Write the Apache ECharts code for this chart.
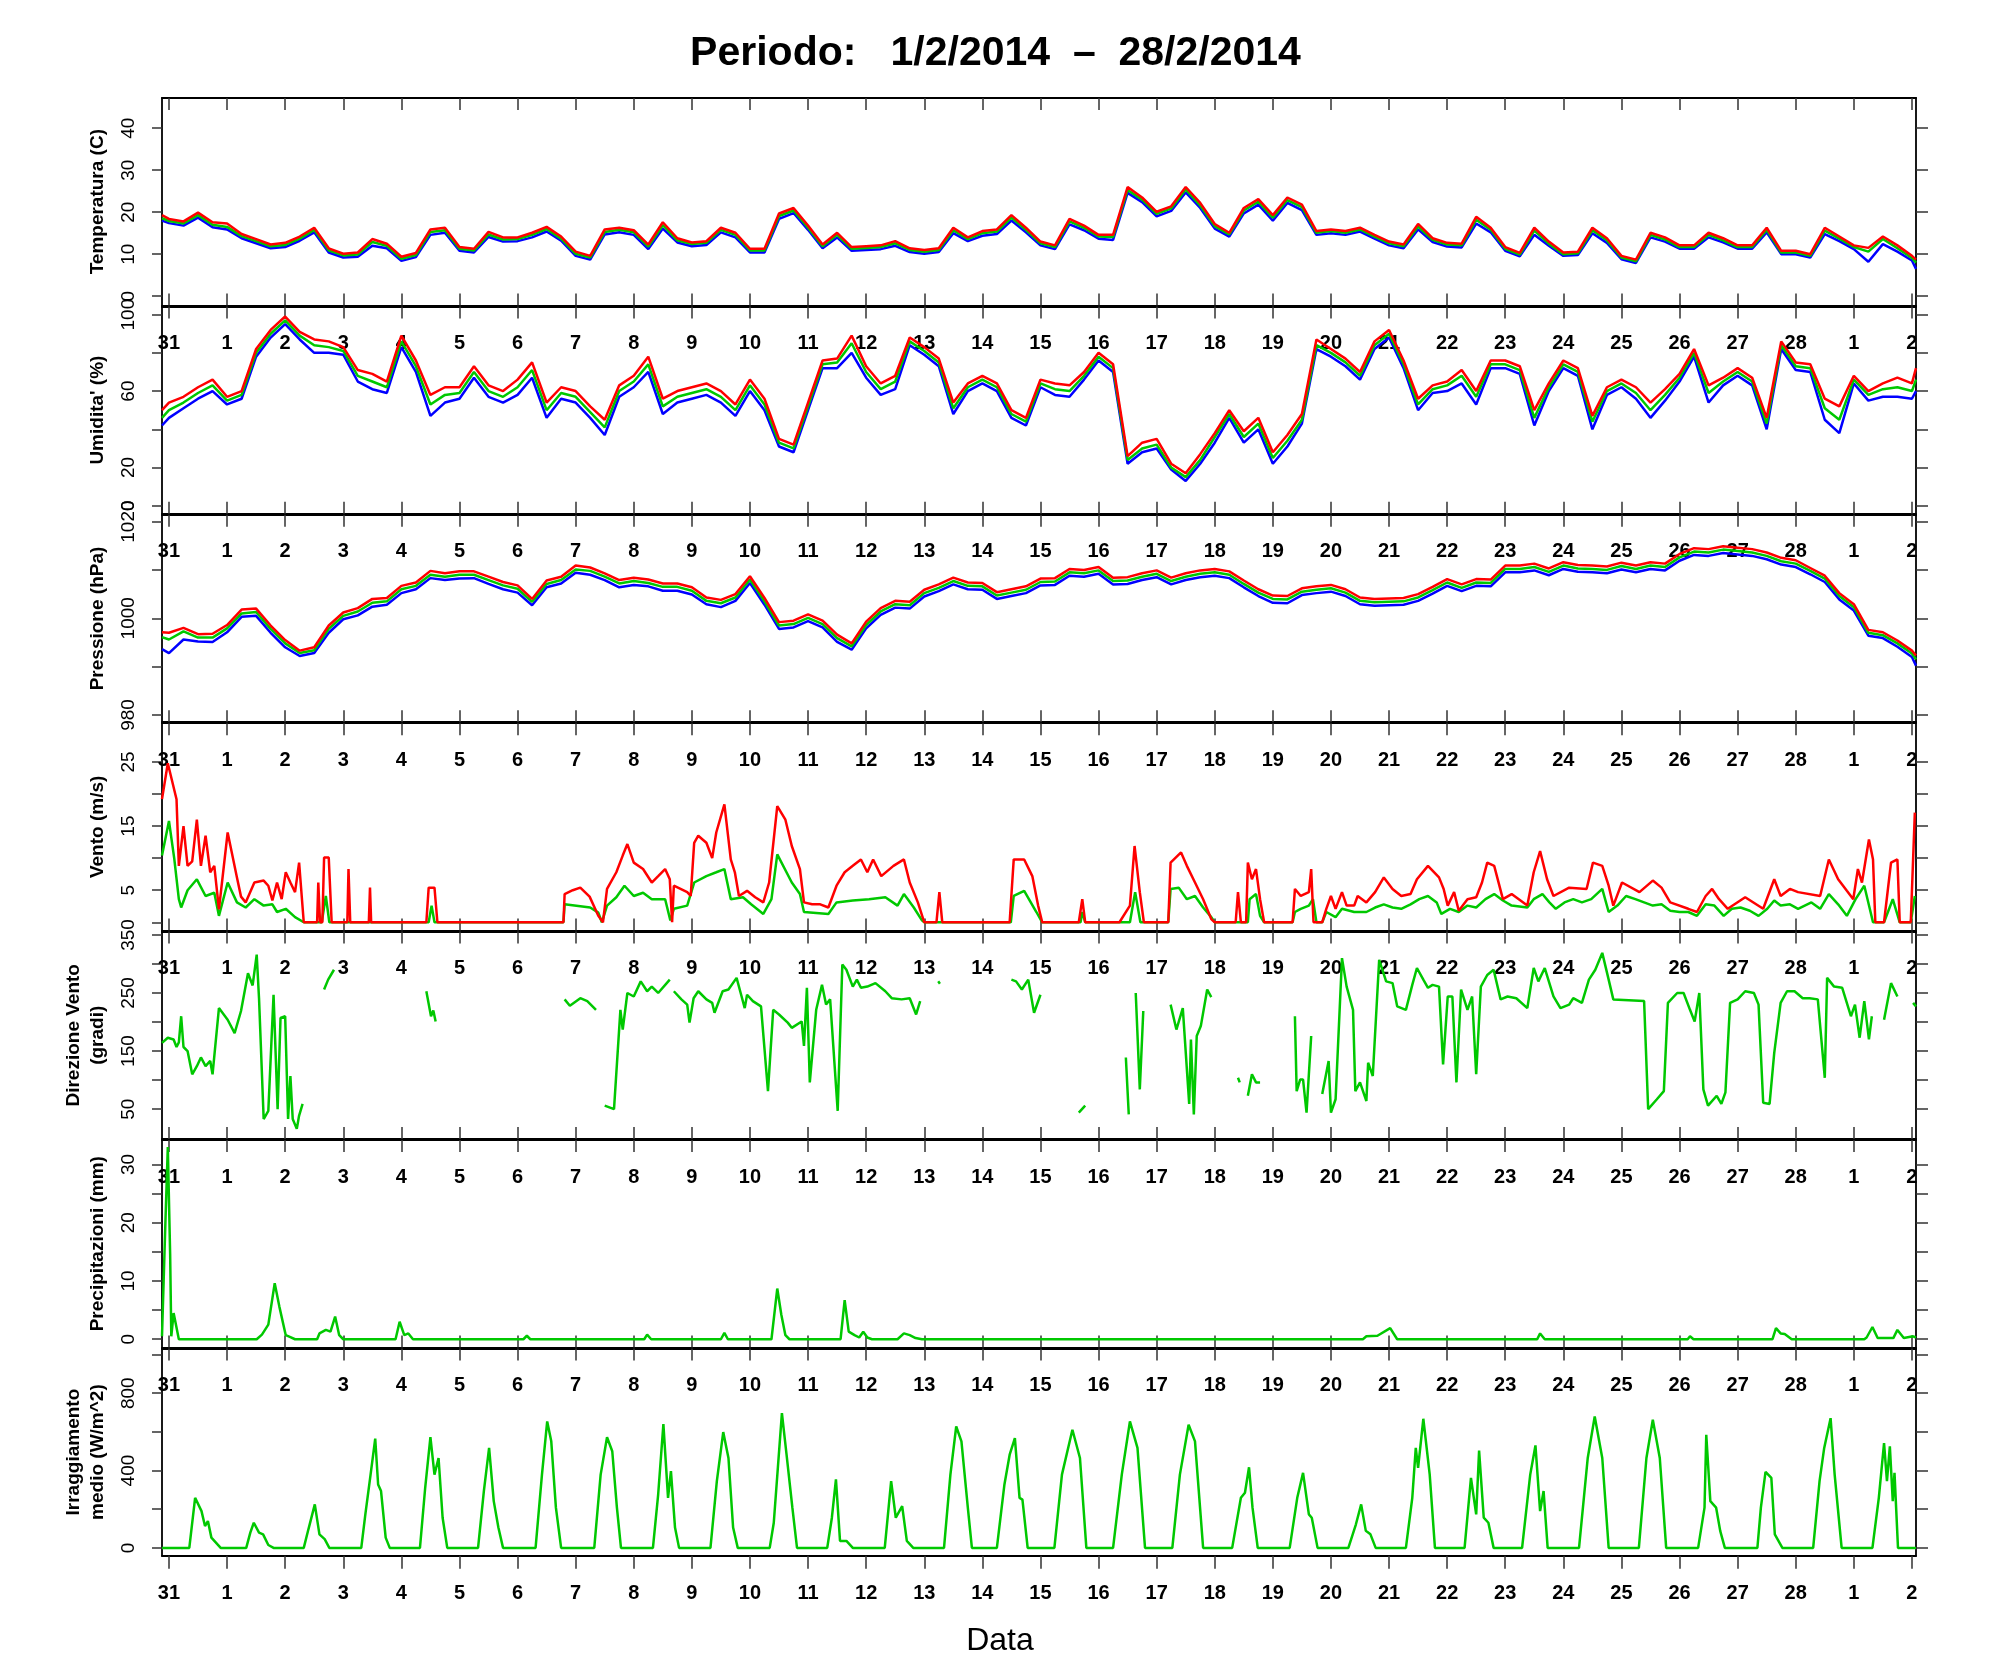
<!DOCTYPE html>
<html>
<head>
<meta charset="utf-8">
<script src="https://cdn.jsdelivr.net/npm/echarts@6/dist/echarts.min.js"></script>
<style>
  html, body { margin: 0; background: #fff; }
  #chart { width: 1991px; height: 1680px; }
</style>
</head>
<body>
<div id="chart"></div>
<script>
// day labels on the x axis, Jan 31 -> Mar 2 (0 = 31 Jan 00:00)
const dayLabels = ['31','1','2','3','4','5','6','7','8','9','10','11','12','13','14','15',
  '16','17','18','19','20','21','22','23','24','25','26','27','28','1','2'];
const dayTicks = dayLabels.map((_, i) => i);

// y tick positions / labels per panel
const tempTicks = [0, 10, 20, 30, 40],        tempLabels = [0, 10, 20, 30, 40];
const humTicks = [0, 20, 40, 60, 80, 100],    humLabels = [0, 20, 60, 100];
const pressTicks = [980, 990, 1000, 1010, 1020], pressLabels = [980, 1000, 1020];
const windTicks = [0, 5, 10, 15, 20, 25],     windLabels = [5, 15, 25];
const dirTicks = [50, 100, 150, 200, 250, 300, 350], dirLabels = [50, 150, 250, 350];
const rainTicks = [0, 5, 10, 15, 20, 25, 30], rainLabels = [0, 10, 20, 30];
const radTicks = [0, 200, 400, 600, 800, 1000], radLabels = [0, 400, 800];

// 6-hourly samples: first value at the left edge, then 4 per day, then 30.00 and the right edge
const tempMax = [19.3,
  18.4,17.8,19.9,17.6, 17.3,14.8,13.6,12.3, 12.7,14.2,16.3,11.4, 10.1,10.4,13.6,12.5,
  9.4,10.3,15.9,16.3, 11.7,11.3,15.3,14.0, 14.0,15.1,16.5,14.2, 10.6,9.6,15.9,16.3,
  15.7,12.3,17.6,13.8, 12.8,13.1,16.3,15.1, 11.3,11.3,19.7,21.0, 16.8,12.3,15.1,11.7,
  11.9,12.1,13.1,11.4, 11.0,11.4,16.3,14.0, 15.5,15.9,19.3,16.3, 13.0,12.1,18.4,16.8,
  14.6,14.6,26.0,23.5, 20.1,21.4,26.0,22.2, 17.2,15.1,21.0,23.1, 19.3,23.5,21.8,15.5,
  15.9,15.5,16.3,14.6, 13.0,12.3,17.2,13.8, 12.7,12.5,18.9,16.3, 11.7,10.3,16.3,13.0,
  10.4,10.6,16.3,13.8, 9.6,8.7,15.1,14.0, 12.1,12.1,15.1,13.8, 12.1,12.1,16.3,10.8,
  10.8,10.0,16.3,14.2, 12.1,11.5,14.2,12.1,
  9.6,8.7];
const tempMean = [18.6,
  17.9,17.3,19.3,17.0, 16.5,14.3,13.1,11.9, 12.2,13.7,15.8,10.9, 9.7,9.9,12.9,12.0,
  8.9,9.8,15.3,15.7, 11.3,10.9,14.7,13.5, 13.6,14.6,16.0,13.7, 10.1,9.2,15.3,15.8,
  15.2,11.8,16.9,13.3, 12.4,12.7,15.8,14.6, 10.9,10.9,19.1,20.4, 16.3,11.9,14.6,11.3,
  11.5,11.7,12.6,11.0, 10.6,11.0,15.7,13.6, 15.0,15.4,18.7,15.8, 12.6,11.7,17.8,16.3,
  14.2,14.1,25.3,23.0, 19.6,20.9,25.4,21.6, 16.7,14.7,20.4,22.5, 18.7,22.9,21.2,15.1,
  15.5,15.1,15.9,14.2, 12.6,11.9,16.6,13.4, 12.3,12.1,18.2,15.8, 11.3,9.9,15.6,12.5,
  10.0,10.2,15.7,13.3, 9.2,8.3,14.6,13.5, 11.7,11.7,14.6,13.3, 11.7,11.7,15.8,10.4,
  10.4,9.6,15.6,13.7, 11.7,10.6,13.6,11.4,
  9.1,8.0];
const tempMin = [18.0,
  17.4,16.8,18.7,16.4, 15.9,13.8,12.6,11.4, 11.7,13.2,15.2,10.4, 9.2,9.4,12.0,11.4,
  8.4,9.3,14.6,15.1, 10.8,10.4,14.1,13.0, 13.1,14.0,15.4,13.2, 9.6,8.7,14.7,15.2,
  14.6,11.2,16.1,12.8, 11.9,12.2,15.2,14.0, 10.4,10.4,18.4,19.8, 15.8,11.4,14.0,10.8,
  11.0,11.2,12.0,10.5, 10.1,10.5,15.0,13.1, 14.4,14.8,18.0,15.2, 12.1,11.2,17.1,15.7,
  13.7,13.4,24.6,22.4, 19.0,20.3,24.7,21.0, 16.1,14.2,19.7,21.8, 18.0,22.2,20.5,14.6,
  15.0,14.6,15.4,13.7, 12.1,11.4,15.9,12.9, 11.8,11.6,17.3,15.2, 10.8,9.5,14.6,12.0,
  9.6,9.8,15.0,12.7, 8.8,7.9,14.0,13.0, 11.3,11.3,14.0,12.8, 11.3,11.3,15.2,10.0,
  10.0,9.2,14.8,13.1, 11.2,8.2,12.4,10.6,
  8.5,6.5];

const humMax = [50,
  54,57,62,66, 57,60,82,92, 99,91,87,86, 83,71,69,65, 89,76,58,62, 62,73,63,60,
  66,75,54,62, 60,52,45,63, 68,78,56,60, 62,64,60,53, 66,56,35,32, 54,76,77,89,
  73,64,68,88, 83,77,54,64, 68,64,50,46, 66,64,63,70, 80,74,26,33, 35,22,17,27,
  38,50,39,46, 28,37,48,87, 82,77,70,86, 92,76,56,63, 65,71,60,76, 76,73,50,64,
  76,72,47,62, 66,62,54,61, 69,82,63,67, 72,67,46,86, 75,74,56,52, 68,60,64,67,
  64,72];
const humMean = [46,
  50,54,59,63, 55,58,80,90, 97,89,84,83, 81,68,65,62, 86,73,53,58, 59,70,60,57,
  62,71,50,59, 57,49,41,60, 65,74,52,57, 59,61,57,50, 63,53,33,30, 52,74,75,85,
  70,61,65,86, 81,75,51,62, 66,62,48,44, 64,61,60,68, 78,72,24,30, 32,20,15,24,
  36,48,36,43, 25,34,45,84, 80,75,68,84, 90,74,53,61, 63,68,57,74, 74,71,46,62,
  74,70,44,60, 64,59,50,58, 67,80,59,65, 70,65,43,84, 73,72,51,45, 66,58,61,62,
  60,66];
const humMin = [42,
  46,51,56,60, 53,56,78,88, 95,87,80,80, 79,65,61,59, 83,70,47,54, 56,67,57,54,
  58,67,46,56, 54,46,37,57, 62,70,48,54, 56,58,54,47, 60,50,31,28, 50,72,72,80,
  67,58,61,84, 79,73,48,60, 64,60,46,42, 62,58,57,66, 76,70,22,28, 30,19,13,22,
  33,46,33,40, 22,31,43,82, 78,73,66,82, 88,72,50,59, 60,64,53,72, 72,69,42,60,
  72,68,40,58, 62,56,46,55, 65,78,54,63, 68,63,40,82, 71,70,45,38, 64,55,57,57,
  56,60];

const pressMax = [997.1,
  997.0,998.0,996.7,996.8, 998.6,1001.8,1002.0,998.5, 995.5,993.3,994.0,998.5,
  1001.2,1002.1,1004.0,1004.2, 1006.7,1007.4,1009.8,1009.3, 1009.7,1009.7,1008.6,1007.5,
  1006.8,1004.0,1007.8,1008.6, 1010.9,1010.5,1009.3,1007.9, 1008.4,1008.0,1007.2,1007.2,
  1006.4,1004.3,1003.8,1005.0, 1008.7,1004.2,999.2,999.5, 1000.8,999.5,996.6,994.8,
  999.3,1002.1,1003.6,1003.4, 1005.9,1007.0,1008.4,1007.4, 1007.3,1005.4,1006.0,1006.6,
  1008.2,1008.3,1010.2,1010.0, 1010.6,1008.4,1008.5,1009.3, 1009.9,1008.4,1009.3,1009.9,
  1010.2,1009.7,1007.8,1006.0, 1004.7,1004.6,1006.2,1006.6, 1006.9,1006.0,1004.3,1004.0,
  1004.1,1004.2,1005.0,1006.5, 1008.1,1007.0,1008.1,1008.0, 1010.9,1010.9,1011.3,1010.3,
  1011.6,1011.0,1010.9,1010.7, 1011.5,1010.9,1011.6,1011.3, 1013.3,1014.5,1014.3,1014.9,
  1014.6,1014.3,1013.6,1012.5, 1012.0,1010.4,1008.8,1005.2, 1002.9,997.6,997.1,995.4,
  993.3,992.3];
const pressMean = [996.1,
  995.6,997.3,996.0,996.0, 997.9,1001.0,1001.3,997.8, 994.8,992.8,993.4,997.8,
  1000.5,1001.4,1003.2,1003.5, 1006.0,1006.7,1009.0,1008.6, 1009.0,1009.0,1007.9,1006.8,
  1006.1,1003.4,1007.1,1007.9, 1010.1,1009.8,1008.6,1007.2, 1007.7,1007.3,1006.5,1006.5,
  1005.7,1003.6,1003.1,1004.3, 1008.0,1003.5,998.5,998.8, 1000.1,998.8,995.9,994.2,
  998.6,1001.4,1002.9,1002.7, 1005.2,1006.3,1007.7,1006.7, 1006.6,1004.7,1005.3,1005.9,
  1007.5,1007.6,1009.5,1009.3, 1009.9,1007.7,1007.8,1008.6, 1009.2,1007.7,1008.6,1009.2,
  1009.5,1009.0,1007.1,1005.3, 1004.0,1003.9,1005.5,1005.9, 1006.2,1005.3,1003.6,1003.3,
  1003.4,1003.5,1004.3,1005.8, 1007.4,1006.3,1007.4,1007.3, 1010.2,1010.2,1010.6,1009.6,
  1010.9,1010.3,1010.2,1010.0, 1010.8,1010.2,1010.9,1010.6, 1012.6,1013.8,1013.6,1014.2,
  1013.9,1013.6,1012.9,1011.8, 1011.3,1009.8,1008.2,1004.6, 1002.3,997.0,996.5,994.8,
  992.7,991.5];
const pressMin = [993.6,
  992.8,995.6,995.2,995.1, 997.1,1000.3,1000.5,997.0, 994.0,992.2,992.8,997.0,
  999.8,1000.6,1002.4,1002.8, 1005.2,1006.0,1008.3,1007.9, 1008.2,1008.3,1007.1,1006.0,
  1005.3,1002.7,1006.4,1007.2, 1009.4,1009.0,1007.9,1006.4, 1006.9,1006.6,1005.7,1005.7,
  1004.9,1002.9,1002.3,1003.6, 1007.3,1002.8,997.8,998.1, 999.4,998.1,995.1,993.5,
  997.9,1000.7,1002.2,1002.0, 1004.5,1005.6,1007.0,1006.0, 1005.9,1004.0,1004.6,1005.2,
  1006.8,1006.9,1008.8,1008.6, 1009.2,1007.0,1007.1,1007.9, 1008.5,1007.0,1007.9,1008.5,
  1008.8,1008.3,1006.4,1004.6, 1003.2,1003.1,1004.8,1005.2, 1005.5,1004.6,1002.9,1002.6,
  1002.7,1002.8,1003.6,1005.1, 1006.7,1005.6,1006.7,1006.6, 1009.5,1009.5,1009.9,1008.9,
  1010.2,1009.6,1009.5,1009.3, 1010.1,1009.5,1010.2,1009.9, 1011.9,1013.1,1012.9,1013.5,
  1013.2,1012.9,1012.2,1011.1, 1010.6,1009.1,1007.5,1003.9, 1001.6,996.4,995.9,994.1,
  992.0,990.2];

// wind, direction, rain and radiation: [day, value] read at the turning points of each trace
const windGust = [
  [-0.12,19.2],[-0.02,24.8],[0.13,19.2],[0.17,8.8],[0.25,15],[0.32,8.8],[0.4,9.5],[0.48,16],[0.55,8.8],
  [0.63,13.5],[0.71,7.8],[0.78,8.8],[0.86,2],[1.01,14],[1.17,7],[1.24,4],[1.32,3.1],[1.47,6.2],[1.63,6.5],
  [1.71,5.7],[1.78,3.4],[1.86,6.2],[1.94,3.6],[2.01,7.8],[2.09,6.2],[2.17,4.7],[2.24,9.3],[2.32,0],[2.55,0],
  [2.57,6.2],[2.6,0],[2.64,0],[2.67,10.1],[2.75,10.1],[2.8,0],[3.07,0],[3.09,8.3],[3.12,0],[3.44,0],
  [3.46,5.4],[3.48,0],[4.43,0],[4.47,5.4],[4.57,5.4],[4.62,0],[6.79,0],[6.81,4.4],[6.95,5],[7.08,5.4],
  [7.24,4],[7.39,1],[7.47,0],[7.54,5.2],[7.7,7.8],[7.81,10.4],[7.89,12.2],[8.0,9.3],[8.16,8.3],[8.31,6.2],
  [8.42,7.2],[8.54,8.3],[8.62,6.7],[8.66,0],[8.69,5.7],[8.92,4.7],[8.98,4.1],[9.04,12.4],[9.11,13.5],
  [9.25,12.4],[9.35,10],[9.42,14],[9.56,18.4],[9.67,9.8],[9.74,7.8],[9.81,4.1],[9.95,4.9],[10.09,3.9],
  [10.23,3.1],[10.33,6.2],[10.47,18.1],[10.61,16],[10.72,11.9],[10.86,8.3],[10.93,3.1],[11.07,2.8],
  [11.21,2.8],[11.35,2.3],[11.49,5.7],[11.63,7.8],[11.77,8.8],[11.91,9.8],[12.02,7.8],[12.12,9.8],
  [12.26,7.2],[12.47,8.8],[12.65,9.8],[12.75,6.2],[12.89,3.1],[13.0,0],[13.21,0],[13.26,4.7],[13.31,0],
  [14.47,0],[14.54,9.8],[14.72,9.8],[14.86,7.2],[14.96,2.6],[15.03,0],[15.66,0],[15.72,3.6],[15.77,0],
  [16.36,0],[16.54,2.6],[16.62,11.9],[16.71,4.7],[16.78,0],[17.2,0],[17.24,9.3],[17.42,10.9],[17.52,8.8],
  [17.66,6.2],[17.8,3.6],[17.94,0.5],[18.0,0],[18.36,0],[18.4,4.7],[18.45,0],[18.54,0],[18.57,9.3],
  [18.64,6.7],[18.71,8.3],[18.78,3.6],[18.85,0],[19.34,0],[19.38,5.2],[19.48,4.1],[19.62,4.7],[19.66,8.3],
  [19.7,0],[19.85,0],[19.92,2.1],[20.0,4.1],[20.08,2.1],[20.19,4.7],[20.27,2.6],[20.4,2.6],[20.46,4.1],
  [20.61,3.1],[20.76,4.7],[20.91,7],[21.06,5.2],[21.21,4.1],[21.37,4.4],[21.48,6.7],[21.67,8.8],[21.86,7],
  [21.94,5.2],[22.01,2.6],[22.12,4.7],[22.2,1.8],[22.35,3.6],[22.5,3.9],[22.6,6.2],[22.69,9.3],[22.81,8.8],
  [22.96,3.6],[23.11,4.4],[23.38,2.6],[23.49,7.8],[23.6,11.1],[23.72,6.7],[23.83,4.1],[24.1,5.4],[24.4,5.2],
  [24.51,9.3],[24.67,8.8],[24.78,5.7],[24.86,2.6],[25.01,6.2],[25.31,4.7],[25.54,6.5],[25.69,5.4],
  [25.84,3.1],[26.15,2.1],[26.3,1.6],[26.45,4.1],[26.56,5.2],[26.68,3.6],[26.83,2.1],[27.13,3.9],
  [27.44,2.1],[27.63,6.7],[27.74,4.1],[27.9,5.2],[28.04,4.7],[28.42,4.1],[28.57,9.8],[28.73,6.7],
  [28.88,4.9],[28.99,3.6],[29.07,8.3],[29.14,6.2],[29.26,12.9],[29.33,9.8],[29.37,0],[29.52,0],[29.64,9.3],
  [29.75,9.8],[29.79,0],[29.98,0],[30.05,17.1]
];
const windMean = [
  [-0.12,10.4],[0,15.8],[0.09,10],[0.17,3.6],[0.21,2.3],[0.32,5],[0.48,6.7],[0.63,4.1],[0.78,4.6],[0.86,1],
  [1.01,6.2],[1.17,3.1],[1.32,2.3],[1.47,3.6],[1.63,2.6],[1.78,2.8],[1.86,1.6],[2.01,2.1],[2.17,0.8],[2.32,0],
  [2.63,0],[2.7,4.1],[2.76,0],[4.47,0],[4.52,2.6],[4.57,0],[6.79,0],[6.81,2.8],[7.25,2.3],[7.39,1.5],
  [7.45,0],[7.54,2.6],[7.7,3.9],[7.84,5.7],[8.0,4.1],[8.16,4.6],[8.31,3.6],[8.54,3.6],[8.63,0.3],[8.69,2.1],
  [8.92,2.6],[9.04,6.2],[9.25,7.2],[9.42,7.8],[9.56,8.3],[9.67,3.6],[9.88,3.9],[10.02,2.8],[10.23,1.3],
  [10.37,3.6],[10.47,10.6],[10.72,6.2],[10.86,4.4],[10.93,1.6],[11.35,1.3],[11.49,3.1],[11.77,3.4],
  [12.05,3.6],[12.33,3.9],[12.54,2.6],[12.65,4.4],[12.82,2.3],[12.96,0.3],[13.0,0],[14.49,0],[14.54,4.1],
  [14.72,4.9],[14.93,1.6],[15.03,0],[15.69,0],[15.72,1.6],[15.77,0],[16.54,0],[16.63,4.7],[16.72,0],
  [17.2,0],[17.24,5.2],[17.38,5.4],[17.52,3.6],[17.66,4.1],[17.8,2.3],[17.94,0.8],[18.0,0],[18.57,0],
  [18.6,3.6],[18.71,4.4],[18.78,1],[18.85,0],[19.34,0],[19.38,1.6],[19.48,2.1],[19.62,2.6],[19.69,3.6],
  [19.75,0],[19.85,0],[19.92,1.6],[20.08,0.8],[20.19,2.1],[20.4,1.6],[20.61,1.6],[20.76,2.3],[20.91,2.8],
  [21.06,2.3],[21.21,2.1],[21.37,2.8],[21.52,3.6],[21.67,4.1],[21.82,3.1],[21.9,1.3],[22.05,2.1],[22.2,1.6],
  [22.35,2.6],[22.5,2.3],[22.66,3.6],[22.81,4.4],[22.96,3.4],[23.11,2.6],[23.38,2.3],[23.49,3.6],[23.64,4.4],
  [23.76,3.1],[23.87,2.1],[24.02,3.1],[24.17,3.6],[24.32,3.1],[24.48,3.6],[24.67,5.2],[24.78,1.6],
  [24.93,2.6],[25.08,4.1],[25.24,3.6],[25.39,3.1],[25.54,2.6],[25.69,2.8],[25.84,1.8],[26.0,1.6],
  [26.15,1.6],[26.3,1],[26.45,2.8],[26.6,2.6],[26.76,1],[26.9,2.1],[27.05,2.3],[27.21,1.8],[27.36,1],
  [27.51,2.1],[27.63,3.4],[27.74,2.6],[27.9,2.8],[28.04,2.1],[28.27,3.1],[28.42,2.1],[28.57,4.4],
  [28.73,2.8],[28.88,1],[29.03,3.6],[29.18,5.7],[29.33,0],[29.52,0],[29.67,3.6],[29.79,0],[29.98,0],
  [30.05,4.1]
];

// wind direction: separate pieces, gaps where the sensor gave no value
const dirPieces = [
  [[-0.12,164],[-0.02,173],[0.08,170],[0.13,157],[0.17,165],[0.21,210],[0.25,157],[0.32,150],[0.4,110],
   [0.48,124],[0.55,139],[0.63,124],[0.71,133],[0.75,110],[0.86,224],[1.01,204],[1.13,181],[1.24,219],
   [1.36,284],[1.44,263],[1.51,316],[1.55,241],[1.63,33],[1.71,47],[1.8,247],[1.87,50],[1.92,207],
   [2.0,210],[2.05,33],[2.09,107],[2.13,33],[2.2,16],[2.24,39],[2.3,59]],
  [[2.67,256],[2.74,273],[2.84,290]],
  [[4.43,253],[4.51,210],[4.55,220],[4.59,201]],
  [[6.81,239],[6.9,228],[7.08,241],[7.2,236],[7.35,221]],
  [[7.5,56],[7.66,50],[7.77,221],[7.81,187],[7.89,250],[8.0,244],[8.12,270],[8.23,253],[8.31,261],
   [8.42,250],[8.62,273]],
  [[8.69,253],[8.82,239],[8.92,230],[8.96,199],[9.03,241],[9.11,253],[9.25,239],[9.35,233],[9.39,216],
   [9.53,253],[9.63,256],[9.77,276],[9.84,250],[9.91,224],[9.95,247],[10.05,236],[10.19,227],[10.31,81],
   [10.4,221],[10.5,213],[10.65,199],[10.72,190],[10.89,201],[10.93,159],[10.98,259],[11.03,96],
   [11.14,221],[11.24,264],[11.31,230],[11.38,239],[11.51,47],[11.59,299],[11.66,290],[11.77,261],
   [11.84,273],[11.91,259],[12.02,261],[12.16,267],[12.33,253],[12.44,241],[12.61,239],[12.75,241],
   [12.86,213],[12.93,236]],
  [[13.24,270],[13.27,266]],
  [[14.5,273],[14.58,270],[14.68,256],[14.79,273],[14.89,216],[15.0,247]],
  [[15.66,44],[15.77,56]],
  [[16.47,139],[16.52,41]],
  [[16.64,250],[16.71,84],[16.77,219]],
  [[17.24,230],[17.34,187],[17.45,224],[17.56,59],[17.59,170],[17.64,41],[17.69,176],[17.76,193],
   [17.87,256],[17.94,243]],
  [[18.4,104],[18.43,96]],
  [[18.57,73],[18.64,110],[18.71,96],[18.78,96]],
  [[19.38,210],[19.41,81],[19.47,101],[19.52,101],[19.58,44],[19.66,176]],
  [[19.85,76],[19.96,133],[20.0,44],[20.08,67],[20.19,310],[20.27,261],[20.38,221],[20.42,81],[20.5,96],
   [20.61,64],[20.64,130],[20.72,107],[20.83,307],[20.95,270],[21.06,267],[21.14,227],[21.29,221],
   [21.4,264],[21.48,293],[21.59,273],[21.67,259],[21.75,264],[21.86,261],[21.93,127],[22.01,244],
   [22.09,244],[22.16,96],[22.24,256],[22.35,221],[22.43,244],[22.5,110],[22.58,261],[22.69,281],
   [22.8,290],[22.92,239],[23.04,244],[23.19,241],[23.38,224],[23.49,293],[23.57,270],[23.68,293],
   [23.83,244],[23.95,224],[24.1,230],[24.17,241],[24.32,233],[24.44,273],[24.55,290],[24.67,319],
   [24.78,273],[24.86,239],[25.39,236],[25.46,50],[25.61,67],[25.73,81],[25.8,233],[25.96,250],
   [26.07,250],[26.18,221],[26.26,201],[26.34,250],[26.41,84],[26.49,56],[26.64,73],[26.72,59],
   [26.79,79],[26.87,233],[27.0,239],[27.13,253],[27.28,250],[27.36,230],[27.44,61],[27.55,59],
   [27.63,147],[27.74,233],[27.85,253],[27.98,253],[28.12,241],[28.24,241],[28.38,239],[28.5,104],
   [28.54,276],[28.66,261],[28.8,259],[28.95,210],[29.02,230],[29.1,173],[29.18,236],[29.26,170],
   [29.31,210]],
  [[29.52,204],[29.64,267],[29.75,244]],
  [[30.02,233],[30.07,227]]
];

const rain = [
  [-0.12,0.5],[-0.06,20.5],[-0.02,33],[0.02,14.7],[0.04,0.5],[0.08,4.5],[0.17,0],[1.51,0],[1.6,0.8],
  [1.71,2.5],[1.82,9.6],[1.9,5.6],[2.01,0.7],[2.08,0.4],[2.17,0],[2.55,0],[2.59,1],[2.7,1.6],[2.78,1.3],
  [2.86,3.9],[2.93,0.7],[3.0,0],[3.9,0],[3.97,3],[4.05,0.7],[4.12,1],[4.2,0],[6.1,0],[6.16,0.6],[6.22,0],
  [8.18,0],[8.23,0.8],[8.3,0],[9.5,0],[9.56,1.1],[9.62,0],[10.37,0],[10.47,8.7],[10.54,4.2],[10.61,0.7],
  [10.68,0],[11.56,0],[11.63,6.7],[11.7,1.3],[11.8,0.7],[11.88,0.3],[11.95,1.3],[12.02,0.3],[12.1,0],
  [12.54,0],[12.65,1],[12.75,0.7],[12.85,0.2],[12.96,0],[20.55,0],[20.61,0.5],[20.8,0.6],[21.02,1.9],
  [21.14,0],[23.55,0],[23.6,1],[23.68,0],[26.14,0],[26.18,0.5],[26.24,0],[27.6,0],[27.66,1.9],
  [27.74,1.0],[27.81,0.9],[27.93,0],[29.18,0],[29.22,0.3],[29.32,2.1],[29.41,0.2],[29.68,0.2],
  [29.75,1.6],[29.86,0.2],[30.02,0.5],[30.07,0.3]
];

const radiation = [
  [-0.12,0],[0.35,0],[0.45,259],[0.56,190],[0.62,113],[0.67,139],[0.73,53],[0.89,0],
  [1.33,0],[1.4,79],[1.46,130],[1.55,79],[1.62,70],[1.71,15],[1.8,0],
  [2.32,0],[2.4,96],[2.51,225],[2.59,70],[2.68,45],[2.76,0],
  [3.31,0],[3.38,173],[3.47,379],[3.55,565],[3.6,328],[3.65,294],[3.73,53],[3.8,0],
  [4.32,0],[4.41,311],[4.5,573],[4.57,379],[4.64,465],[4.71,156],[4.79,0],
  [5.32,0],[5.42,294],[5.51,517],[5.59,242],[5.67,105],[5.75,0],
  [6.31,0],[6.42,379],[6.51,654],[6.58,551],[6.66,208],[6.75,0],
  [7.32,0],[7.43,379],[7.54,572],[7.63,500],[7.71,208],[7.78,0],
  [8.33,0],[8.42,276],[8.51,640],[8.59,259],[8.64,397],[8.71,105],[8.78,0],
  [9.32,0],[9.43,345],[9.54,599],[9.63,465],[9.71,105],[9.79,0],
  [10.34,0],[10.41,130],[10.55,697],[10.63,482],[10.73,208],[10.81,0],
  [11.33,0],[11.41,156],[11.48,354],[11.55,36],[11.66,36],[11.77,0],
  [12.32,0],[12.43,345],[12.51,156],[12.62,216],[12.7,36],[12.81,0],
  [13.34,0],[13.45,379],[13.55,628],[13.64,551],[13.75,208],[13.82,0],
  [14.25,0],[14.38,328],[14.47,482],[14.56,568],[14.64,259],[14.69,250],[14.78,0],
  [15.24,0],[15.37,379],[15.55,611],[15.68,465],[15.79,0],
  [16.25,0],[16.4,379],[16.54,654],[16.67,517],[16.8,0],
  [17.27,0],[17.4,379],[17.55,637],[17.66,551],[17.8,0],
  [18.3,0],[18.45,259],[18.52,285],[18.59,417],[18.65,208],[18.74,0],
  [19.29,0],[19.42,259],[19.52,388],[19.62,173],[19.67,156],[19.77,0],
  [20.3,0],[20.43,122],[20.52,225],[20.6,88],[20.68,70],[20.77,0],
  [21.29,0],[21.4,259],[21.46,517],[21.5,414],[21.59,668],[21.7,379],[21.79,0],
  [22.3,0],[22.41,362],[22.5,173],[22.55,503],[22.63,156],[22.71,130],[22.8,0],
  [23.29,0],[23.43,379],[23.52,530],[23.6,190],[23.66,294],[23.73,0],
  [24.27,0],[24.42,465],[24.54,680],[24.67,465],[24.78,0],
  [25.3,0],[25.43,465],[25.54,663],[25.66,465],[25.77,0],
  [26.32,0],[26.43,208],[26.46,585],[26.53,242],[26.63,208],[26.7,88],[26.78,0],
  [27.34,0],[27.4,208],[27.48,393],[27.58,362],[27.64,70],[27.77,0],
  [28.3,0],[28.41,345],[28.49,517],[28.6,671],[28.67,379],[28.79,0],
  [29.32,0],[29.43,259],[29.52,542],[29.57,345],[29.62,525],[29.67,242],[29.7,388],[29.76,0],
  [30.07,0]
];

// sample times for the 6-hourly arrays
const sampleT = [-0.12];
for (let d = 0; d < 30; d++) for (let q = 0; q < 4; q++) sampleT.push(d + q * 0.25);
sampleT.push(30, 30.07);
const withT = vals => vals.map((v, i) => [sampleT[i], v]);

const dirData = [];
dirPieces.forEach((piece, k) => {
  if (k) dirData.push([piece[0][0] - 0.01, null]);
  piece.forEach(p => dirData.push(p));
});

const FONT = '"Liberation Sans", Arial, Helvetica, sans-serif';
const RED = '#ff0000', GREEN = '#00c800', BLUE = '#0000ff';
const X_MIN = -0.12, X_MAX = 30.07;
const TOP0 = 98, STEP = 208.4, LEFT = 162, RIGHT = 75;

const panels = [
  { name: 'Temperatura (C)', min: -2.2, max: 47.2, ticks: tempTicks, labels: tempLabels,
    lines: [[tempMin, BLUE], [tempMean, GREEN], [tempMax, RED]] },
  { name: "Umidita' (%)", min: -4.2, max: 104.3, ticks: humTicks, labels: humLabels,
    lines: [[humMin, BLUE], [humMean, GREEN], [humMax, RED]] },
  { name: 'Pressione (hPa)', min: 978.5, max: 1021.4, ticks: pressTicks, labels: pressLabels,
    lines: [[pressMin, BLUE], [pressMean, GREEN], [pressMax, RED]] },
  { name: 'Vento (m/s)', min: -1.3, max: 31.05, ticks: windTicks, labels: windLabels,
    pairs: [[windMean, GREEN], [windGust, RED]] },
  { name: 'Direzione Vento\n(gradi)', min: -1.4, max: 355.7, ticks: dirTicks, labels: dirLabels,
    pairs: [[dirData, GREEN]] },
  { name: 'Precipitazioni (mm)', min: -1.4, max: 34.2, ticks: rainTicks, labels: rainLabels,
    pairs: [[rain, GREEN]] },
  { name: 'Irraggiamento\nmedio (W/m^2)', min: -41, max: 1032, ticks: radTicks, labels: radLabels,
    pairs: [[radiation, GREEN]] }
];

const grid = [], xAxis = [], yAxis = [], series = [];
const last = panels.length - 1;

panels.forEach((p, i) => {
  grid.push({ left: LEFT, right: RIGHT, top: TOP0 + i * STEP, height: STEP - 1 });

  // bottom axis with the day labels (they sit just under the panel)
  xAxis.push({
    gridIndex: i, type: 'value', position: 'bottom', min: X_MIN, max: X_MAX,
    axisLine: { onZero: false, lineStyle: { color: '#000', width: 2 } },
    axisTick: { customValues: dayTicks, inside: i !== last, length: i === last ? 13 : 12,
      lineStyle: { color: '#333', width: 1.5 } },
    axisLabel: { customValues: dayTicks, margin: 28, color: '#000', fontSize: 20,
      fontWeight: 'bold', fontFamily: FONT, formatter: v => dayLabels[Math.round(v)] },
    splitLine: { show: false }
  });
  // top axis: ticks only
  xAxis.push({
    gridIndex: i, type: 'value', position: 'top', min: X_MIN, max: X_MAX,
    axisLine: { onZero: false, lineStyle: { color: '#000', width: 2 } },
    axisTick: { customValues: dayTicks, inside: true, length: 12, lineStyle: { color: '#333', width: 1.5 } },
    axisLabel: { show: false }, splitLine: { show: false }
  });

  yAxis.push({
    gridIndex: i, type: 'value', position: 'left', min: p.min, max: p.max,
    name: p.name, nameLocation: 'middle', nameGap: 52,
    nameTextStyle: { color: '#000', fontSize: 19, fontWeight: 'bold', fontFamily: FONT, lineHeight: 24 },
    axisLine: { onZero: false, lineStyle: { color: '#000', width: 1.8 } },
    axisTick: { customValues: p.ticks, length: 10, lineStyle: { color: '#333', width: 1.5 } },
    axisLabel: { customValues: p.labels, rotate: 90, margin: 24, color: '#000', fontSize: 19,
      fontFamily: FONT, formatter: v => String(v) },
    splitLine: { show: false }
  });
  yAxis.push({
    gridIndex: i, type: 'value', position: 'right', min: p.min, max: p.max,
    axisLine: { onZero: false, lineStyle: { color: '#000', width: 1.8 } },
    axisTick: { customValues: p.ticks, length: 12, lineStyle: { color: '#333', width: 1.5 } },
    axisLabel: { show: false }, splitLine: { show: false }
  });

  const lineSeries = (data, color) => ({
    type: 'line', xAxisIndex: 2 * i, yAxisIndex: 2 * i, data,
    showSymbol: false, symbol: 'none', silent: true, clip: true,
    lineStyle: { color, width: 2.5 }, itemStyle: { color }
  });
  (p.lines || []).forEach(([vals, color]) => series.push(lineSeries(withT(vals), color)));
  (p.pairs || []).forEach(([pts, color]) => series.push(lineSeries(pts, color)));
});

const chart = echarts.init(document.getElementById('chart'), null, { renderer: 'canvas' });
chart.setOption({
  animation: false,
  backgroundColor: '#fff',
  textStyle: { fontFamily: FONT },
  title: {
    text: 'Periodo:   1/2/2014  \u2013  28/2/2014', left: 'center', top: 28,
    textStyle: { fontSize: 41, fontWeight: 'bold', color: '#000', fontFamily: FONT }
  },
  graphic: [{
    type: 'text', x: 1000, y: 1641,
    style: { text: 'Data', fontSize: 32, fontFamily: FONT, fill: '#000', align: 'center', verticalAlign: 'middle' }
  }],
  grid, xAxis, yAxis, series
});
</script>
</body>
</html>
